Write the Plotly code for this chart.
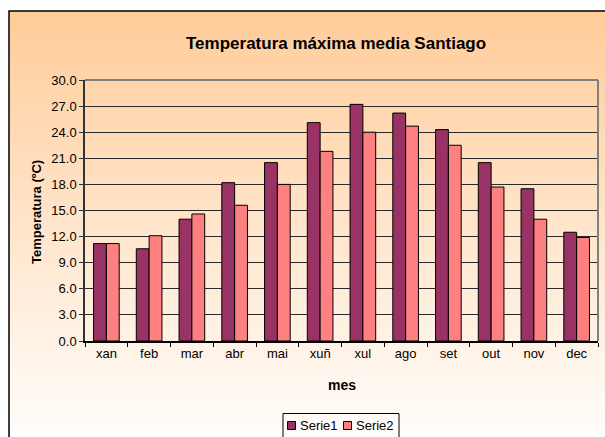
import base64
import plotly.graph_objects as go

meses = ["xan", "feb", "mar", "abr", "mai", "xuñ", "xul", "ago", "set", "out", "nov", "dec"]
serie1 = [11.2, 10.6, 14.0, 18.2, 20.5, 25.1, 27.2, 26.2, 24.3, 20.5, 17.5, 12.5]
serie2 = [11.2, 12.1, 14.6, 15.6, 18.0, 21.8, 24.0, 24.7, 22.5, 17.7, 14.0, 11.9]
series_names = ["Serie1", "Serie2"]
series_colors = ["#993366", "#FF8080"]
yticks = [0.0, 3.0, 6.0, 9.0, 12.0, 15.0, 18.0, 21.0, 24.0, 27.0, 30.0]

FONT = "Arial, Liberation Sans, sans-serif"
W, H = 605, 437
L, R, T, B = 85, 7, 80, 96
PW, PH = W - L - R, H - T - B


def px_x(x):
    return (x - L) / PW


def px_y(y):
    return (H - B - y) / PH


fig = go.Figure()
for name, vals, col in zip(series_names, [serie1, serie2], series_colors):
    fig.add_trace(go.Bar(name=name, x=meses, y=vals, showlegend=False,
                         marker=dict(color=col, line=dict(color="#000000", width=1))))

svg = ('<svg xmlns="http://www.w3.org/2000/svg" width="100" height="100" preserveAspectRatio="none">'
       '<defs><linearGradient id="g" x1="0" y1="0" x2="0" y2="1">'
       '<stop offset="0" stop-color="#FFCC99"/><stop offset="1" stop-color="#FFFFFF"/>'
       '</linearGradient></defs><rect width="100" height="100" fill="url(#g)"/></svg>')
src = "data:image/svg+xml;base64," + base64.b64encode(svg.encode()).decode()

x0, y0, x1, y1 = 9, 11, 612, 450
fig.add_layout_image(dict(source=src, xref="paper", yref="paper",
                          x=px_x(x0), y=px_y(y0), sizex=px_x(x1) - px_x(x0),
                          sizey=px_y(y0) - px_y(y1), xanchor="left", yanchor="top",
                          sizing="stretch", layer="below"))

shapes = [
    dict(type="rect", xref="paper", yref="paper", x0=px_x(x0), x1=px_x(x1),
         y0=px_y(y1), y1=px_y(y0), line=dict(color="#000000", width=1.5), layer="below"),
    dict(type="line", xref="paper", yref="paper", x0=0, x1=1, y0=1, y1=1,
         line=dict(color="#808080", width=2)),
    dict(type="line", xref="paper", yref="paper", x0=1, x1=1, y0=0, y1=1,
         line=dict(color="#808080", width=2)),
    # legend box
    dict(type="rect", xref="paper", yref="paper", x0=px_x(283), x1=px_x(399),
         y0=px_y(445), y1=px_y(413.5), line=dict(color="#000000", width=1),
         fillcolor="rgba(255,255,255,0)"),
]

annotations = [
    dict(text="<b>Temperatura máxima media Santiago</b>", xref="paper", yref="paper",
         x=px_x(336), y=px_y(44), showarrow=False, font=dict(size=17, family=FONT),
         xanchor="center", yanchor="middle"),
    dict(text="<b>Temperatura (ºC)</b>", xref="paper", yref="paper",
         x=px_x(36), y=px_y(212), showarrow=False, textangle=-90,
         font=dict(size=13, family=FONT), xanchor="center", yanchor="middle"),
    dict(text="<b>mes</b>", xref="paper", yref="paper",
         x=px_x(342), y=px_y(385), showarrow=False,
         font=dict(size=14, family=FONT), xanchor="center", yanchor="middle"),
]

leg_sq_x = [287.5, 343.5]
for i, (name, col) in enumerate(zip(series_names, series_colors)):
    sx = leg_sq_x[i]
    shapes.append(dict(type="rect", xref="paper", yref="paper",
                       x0=px_x(sx), x1=px_x(sx + 8), y0=px_y(429.5), y1=px_y(421.5),
                       fillcolor=col, line=dict(color="#000000", width=1)))
    annotations.append(dict(text=name, xref="paper", yref="paper",
                            x=px_x(sx + 10), y=px_y(425.5), showarrow=False,
                            xanchor="left", yanchor="middle",
                            font=dict(size=13, family=FONT)))

fig.update_layout(
    width=W, height=H,
    margin=dict(l=L, r=R, t=T, b=B),
    paper_bgcolor="#FFFFFF",
    plot_bgcolor="rgba(0,0,0,0)",
    barmode="group", bargap=0.4, bargroupgap=0.0,
    font=dict(family=FONT, size=13, color="#000000"),
    shapes=shapes,
    annotations=annotations,
    showlegend=False,
)

fig.update_xaxes(showline=True, linecolor="#000000", linewidth=1.5,
                 ticks="outside", tickson="boundaries", ticklen=4, tickcolor="#000000",
                 showgrid=False, tickfont=dict(size=13, family=FONT))
fig.update_yaxes(range=[0, 30], tickvals=yticks, tickformat=".1f",
                 showline=True, linecolor="#333333", linewidth=1.5,
                 ticks="outside", ticklen=4, tickcolor="#333333",
                 showgrid=True, gridcolor="#2a2a2a", gridwidth=1, zeroline=False,
                 tickfont=dict(size=13, family=FONT))

fig.write_html("out.html", config={"displayModeBar": False},
               post_script="document.body.style.margin='0';document.body.style.overflow='hidden';")
